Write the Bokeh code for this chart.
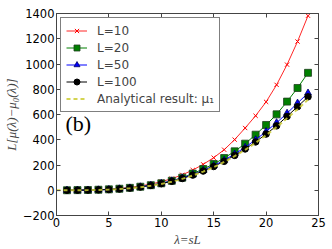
from bokeh.plotting import figure
from bokeh.models import LinearAxis, Legend, Label, Range1d, FixedTicker, CustomLabelingPolicy
from bokeh.embed import file_html
from bokeh.resources import INLINE

lam = list(range(1, 25))
L10 = [0, 1, 2, 4, 8, 14, 22, 34, 49, 68, 92, 122, 160, 205, 258, 321, 401, 493, 590, 700, 835, 995, 1178, 1382]
L20 = [0, 1, 2, 4, 7, 12, 19, 28, 40, 55, 75, 100, 132, 168, 208, 255, 308, 369, 440, 517, 601, 702, 810, 930]
L50 = [0, 0.5, 1.5, 3, 6, 11, 18, 27, 39, 55, 74, 97, 125, 158, 195, 238, 287, 340, 400, 465, 535, 610, 690, 770]
L100 = [0, 0.5, 1.5, 3, 5.5, 10, 17, 26, 38, 52, 71, 93, 120, 152, 188, 229, 276, 327, 383, 445, 510, 585, 662, 740]
lam_an = list(range(0, 25))
analytic = [0, 0, 0.3, 1, 2.5, 5, 9, 15, 24, 36, 50, 68, 90, 117, 148, 183, 224, 270, 320, 376, 436, 500, 570, 642, 718]

x_ticks = [0, 5, 10, 15, 20, 25]
y_ticks = [-200, 0, 200, 400, 600, 800, 1000, 1200, 1400]

p = figure(frame_width=262, frame_height=202, output_backend="svg", toolbar_location=None,
           x_range=Range1d(0, 25), y_range=Range1d(-200, 1400),
           min_border_left=47, min_border_right=8, min_border_top=13, min_border_bottom=26)
p.background_fill_color = "white"
p.border_fill_color = "white"
p.grid.visible = False
p.outline_line_color = "#555555"

axis_color = "#444444"
for ax in (p.xaxis[0], p.yaxis[0]):
    ax.major_tick_in = 4
    ax.major_tick_out = 0
    ax.minor_tick_line_color = None
    ax.axis_line_color = axis_color
    ax.major_tick_line_color = axis_color
    ax.major_label_text_font = "DejaVu Sans"
    ax.major_label_text_font_size = "11.5px"
    ax.major_label_text_color = "black"
    ax.major_label_standoff = 2
    ax.axis_label_text_font = "Liberation Serif"
    ax.axis_label_text_font_style = "italic"
    ax.axis_label_text_font_size = "13px"
    ax.axis_label_standoff = 2

p.xaxis[0].ticker = FixedTicker(ticks=x_ticks)
p.yaxis[0].ticker = FixedTicker(ticks=y_ticks)
p.xaxis[0].axis_label = "λ=sL"
p.yaxis[0].axis_label = "L[μ(λ)−μ₀(λ)]"
p.yaxis[0].axis_label_standoff = 1

no_labels = CustomLabelingPolicy(code="""
    for (const i of Array.from(indices)) indices.unset(i)
    return indices
""")
for loc, tks in (("right", y_ticks), ("above", x_ticks)):
    ax = LinearAxis(ticker=FixedTicker(ticks=tks))
    ax.major_tick_in = 4
    ax.major_tick_out = 0
    ax.minor_tick_line_color = None
    ax.axis_line_color = axis_color
    ax.major_tick_line_color = axis_color
    ax.major_label_policy = no_labels
    ax.major_label_standoff = 0
    p.add_layout(ax, loc)

r10l = p.line(lam, L10, line_color="red", line_width=1, line_alpha=0.85)
r10m = p.scatter(lam, L10, marker="x", size=6, line_color="red", line_width=1)
r20l = p.line(lam, L20, line_color="#008000", line_width=1)
r20m = p.scatter(lam, L20, marker="square", size=7, fill_color="#008000", line_color="#1f3f1f", line_width=0.8)
r50l = p.line(lam, L50, line_color="blue", line_width=1)
r50m = p.scatter(lam, L50, marker="triangle", size=7, fill_color="blue", line_color="#000060", line_width=0.8)
r100l = p.line(lam, L100, line_color="black", line_width=1)
r100m = p.scatter(lam, L100, marker="circle", size=6.5, fill_color="black", line_color="black")
ran = p.line(lam_an, analytic, line_color="#cccc33", line_width=2, line_dash="4 3", line_alpha=0.85)

legend = Legend(items=[
    ("L=10", [r10l, r10m]),
    ("L=20", [r20l, r20m]),
    ("L=50", [r50l, r50m]),
    ("L=100", [r100l, r100m]),
    ("Analytical result: μ₁", [ran]),
], location="top_left")
legend.label_text_font = "DejaVu Sans"
legend.label_text_font_size = "12px"
legend.glyph_width = 21
legend.glyph_height = 15
legend.label_height = 15
legend.label_standoff = 10
legend.spacing = 2
legend.padding = 5
legend.margin = 4
legend.border_line_color = "black"
legend.border_line_width = 1
legend.background_fill_alpha = 1
p.add_layout(legend)

p.add_layout(Label(x=0.85, y=430, text="(b)", text_font="Liberation Serif",
                   text_font_size="22px", text_color="black"))

open("out.html", "w").write(file_html(p, INLINE))
